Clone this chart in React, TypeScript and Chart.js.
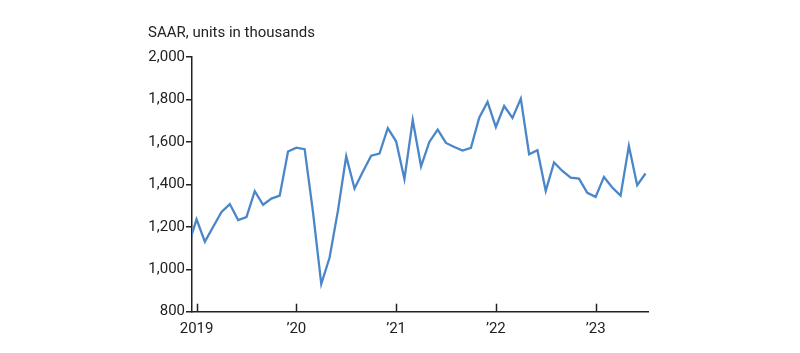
import React, { useEffect, useRef } from "react";
import { Chart, registerables } from "chart.js";

Chart.register(...registerables);

// Monthly index: 0 = Jan 2019 (-1 = Dec 2018)
const monthIndex: number[] = Array.from({ length: 56 }, (_, i) => i - 1);
const startsValues: number[] = [
  1110, // Dec 2018
  1235, 1130, 1200, 1270, 1307, 1232, 1246, 1368, 1304, 1333, 1347, 1555, // 2019
  1573, 1566, 1270, 930, 1055, 1275, 1532, 1380, 1459, 1535, 1545, 1665, // 2020
  1603, 1425, 1703, 1485, 1600, 1658, 1595, 1576, 1559, 1572, 1714, 1788, // 2021
  1670, 1769, 1713, 1804, 1542, 1561, 1369, 1503, 1463, 1432, 1427, 1360, // 2022
  1341, 1435, 1385, 1347, 1581, 1396, 1451, // 2023
];
const xTickValues: number[] = [0, 12, 24, 36, 48];
const xTickLabels: string[] = ["2019", "\u201920", "\u201921", "\u201922", "\u201923"];
const yTitle = "SAAR, units in thousands";

const FONT = "Roboto, 'Noto Sans', sans-serif";
const INK = "#222222";

export default function App() {
  const ref = useRef<HTMLCanvasElement | null>(null);
  useEffect(() => {
    document.body.style.margin = "0";
    const canvas = ref.current!;
    const innerTicks = {
      id: "innerTicks",
      afterDraw(chart: any) {
        const { ctx, chartArea } = chart;
        const xs = chart.scales.x;
        ctx.save();
        ctx.strokeStyle = INK;
        ctx.lineWidth = 1.5;
        xTickValues.forEach((v) => {
          const px = Math.round(xs.getPixelForValue(v)) + 0.5;
          ctx.beginPath();
          ctx.moveTo(px, chartArea.bottom);
          ctx.lineTo(px, chartArea.bottom - 8);
          ctx.stroke();
        });
        ctx.fillStyle = INK;
        ctx.font = `15px ${FONT}`;
        ctx.textAlign = "left";
        ctx.textBaseline = "middle";
        ctx.fillText(yTitle, 148, 33);
        ctx.restore();
      },
    };
    const chart = new Chart(canvas, {
      type: "line",
      data: {
        datasets: [
          {
            data: monthIndex.map((m, i) => ({ x: m, y: startsValues[i] })),
            borderColor: "#4a86c8",
            borderWidth: 2.3,
            pointRadius: 0,
            tension: 0,
            fill: false,
          },
        ],
      },
      options: {
        animation: false,
        responsive: false,
        maintainAspectRatio: false,
        layout: { padding: { top: 57, right: 152, left: 0, bottom: 0 } },
        plugins: { legend: { display: false }, tooltip: { enabled: false }, title: { display: false } },
        scales: {
          x: {
            type: "linear",
            min: -0.55,
            max: 54.3,
            grid: { display: false },
            border: { display: true, color: INK, width: 1.5 },
            afterBuildTicks: (scale: any) => {
              scale.ticks = xTickValues.map((v) => ({ value: v }));
            },
            afterFit: (scale: any) => {
              scale.height = 41.3;
            },
            ticks: {
              autoSkip: false,
              maxRotation: 0,
              padding: 1,
              color: INK,
              font: { family: FONT, size: 15 },
              callback: (v: any) => {
                const i = xTickValues.indexOf(Number(v));
                return i >= 0 ? xTickLabels[i] : "";
              },
            },
          },
          y: {
            min: 800,
            max: 2000,
            grid: { display: true, drawOnChartArea: false, drawTicks: true, tickLength: 6, color: INK, lineWidth: 1.5 },
            border: { display: true, color: INK, width: 1.5 },
            afterFit: (scale: any) => {
              scale.width = 192;
            },
            ticks: {
              stepSize: 200,
              padding: 1,
              color: INK,
              font: { family: FONT, size: 15 },
              callback: (v: any) => Number(v).toLocaleString("en-US"),
            },
          },
        },
      },
      plugins: [innerTicks],
    } as any);
    return () => chart.destroy();
  }, []);
  return (
    <div style={{ width: 800, height: 353, background: "#fff" }}>
      <canvas ref={ref} width={800} height={353} style={{ display: "block", width: 800, height: 353 }} />
    </div>
  );
}
